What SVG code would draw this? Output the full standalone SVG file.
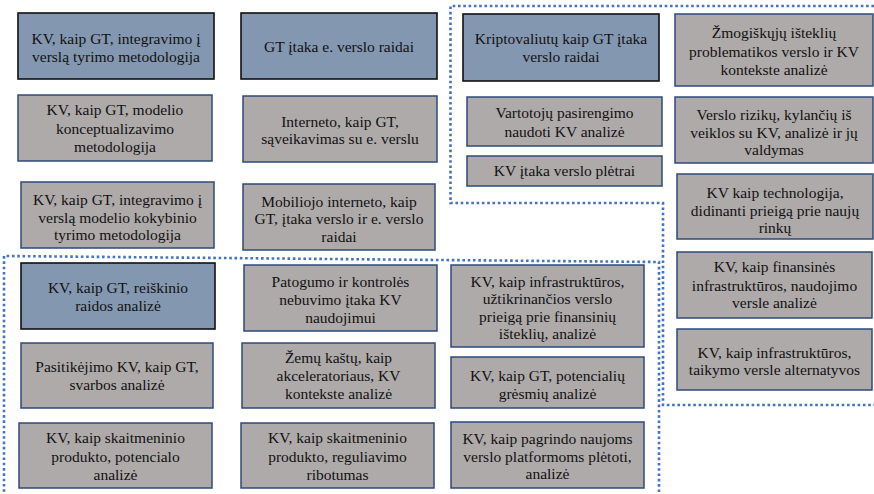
<svg xmlns="http://www.w3.org/2000/svg" width="874" height="494" viewBox="0 0 874 494" font-family="'Liberation Serif', 'DejaVu Serif', 'Times New Roman', serif">
  <style>
    .key rect { fill: #8497b0; stroke: #111111; stroke-width: 1.6; }
    .topic rect { fill: #aeaaaa; stroke: #2f4a78; stroke-width: 1.5; }
    text { font-family: 'Liberation Serif', 'DejaVu Serif', 'Times New Roman', serif; font-size: 15.5px; fill: #111111; text-anchor: middle; }
    .zone { fill: none; stroke: #4472c4; stroke-width: 2.6; stroke-dasharray: 2.6 2.7; }
  </style>
  <rect width="874" height="494" fill="#ffffff"/>

  <!-- zone outlines -->
  <g id="connectors">
    <polyline class="zone" points="874,6 450.5,6 450.5,203 663,203 663,405 874,405"/>
    <polyline class="zone" points="659,492 659,262 4,256 4,494"/>
  </g>

  <!-- column 1 -->
  <g id="n1" class="key">
    <rect x="18" y="13" width="196" height="66"/>
    <text x="116" y="44">KV, kaip GT, integravimo į</text>
    <text x="116" y="62">verslą tyrimo metodologija</text>
  </g>
  <g id="n2" class="topic">
    <rect x="18" y="95" width="194" height="66"/>
    <text x="115" y="115">KV, kaip GT, modelio</text>
    <text x="115" y="134">konceptualizavimo</text>
    <text x="115" y="152">metodologija</text>
  </g>
  <g id="n3" class="topic">
    <rect x="21" y="182" width="193" height="66"/>
    <text x="117.5" y="205">KV, kaip GT, integravimo į</text>
    <text x="117.5" y="223">verslą modelio kokybinio</text>
    <text x="117.5" y="240">tyrimo metodologija</text>
  </g>

  <!-- column 2 -->
  <g id="n4" class="key">
    <rect x="241" y="13" width="196" height="66"/>
    <text x="339" y="52">GT įtaka e. verslo raidai</text>
  </g>
  <g id="n5" class="topic">
    <rect x="243" y="96" width="194" height="66"/>
    <text x="340" y="127">Interneto, kaip GT,</text>
    <text x="340" y="144">sąveikavimas su e. verslu</text>
  </g>
  <g id="n6" class="topic">
    <rect x="243" y="184" width="192" height="66"/>
    <text x="339" y="207">Mobiliojo interneto, kaip</text>
    <text x="339" y="224">GT, įtaka verslo ir e. verslo</text>
    <text x="339" y="242">raidai</text>
  </g>

  <!-- upper zone -->
  <g id="n7" class="key">
    <rect x="463" y="14" width="196" height="67"/>
    <text x="561" y="44">Kriptovaliutų kaip GT įtaka</text>
    <text x="561" y="62">verslo raidai</text>
  </g>
  <g id="n8" class="topic">
    <rect x="467" y="97" width="195" height="49"/>
    <text x="564.5" y="118">Vartotojų pasirengimo</text>
    <text x="564.5" y="137">naudoti KV analizė</text>
  </g>
  <g id="n9" class="topic">
    <rect x="467" y="156" width="195" height="30"/>
    <text x="564.5" y="176">KV įtaka verslo plėtrai</text>
  </g>
  <g id="n10" class="topic">
    <rect x="675" y="14" width="198" height="72"/>
    <text x="774" y="38">Žmogiškųjų išteklių</text>
    <text x="774" y="57">problematikos verslo ir KV</text>
    <text x="774" y="75">kontekste analizė</text>
  </g>
  <g id="n11" class="topic">
    <rect x="675" y="97" width="198" height="66"/>
    <text x="774" y="120">Verslo rizikų, kylančių iš</text>
    <text x="774" y="138">veiklos su KV, analizė ir jų</text>
    <text x="774" y="155">valdymas</text>
  </g>
  <g id="n12" class="topic">
    <rect x="677" y="174" width="196" height="65"/>
    <text x="775" y="198">KV kaip technologija,</text>
    <text x="775" y="216">didinanti prieigą prie naujų</text>
    <text x="775" y="233">rinkų</text>
  </g>
  <g id="n13" class="topic">
    <rect x="677" y="252" width="195" height="66"/>
    <text x="774.5" y="272">KV, kaip finansinės</text>
    <text x="774.5" y="291">infrastruktūros, naudojimo</text>
    <text x="774.5" y="308">versle analizė</text>
  </g>
  <g id="n14" class="topic">
    <rect x="677" y="329" width="195" height="61"/>
    <text x="774.5" y="358">KV, kaip infrastruktūros,</text>
    <text x="774.5" y="375">taikymo versle alternatyvos</text>
  </g>

  <!-- lower zone -->
  <g id="n15" class="key">
    <rect x="21" y="263" width="194" height="66"/>
    <text x="118" y="293">KV, kaip GT, reiškinio</text>
    <text x="118" y="311">raidos analizė</text>
  </g>
  <g id="n16" class="topic">
    <rect x="21" y="343" width="192" height="65"/>
    <text x="117" y="372">Pasitikėjimo KV, kaip GT,</text>
    <text x="117" y="390">svarbos analizė</text>
  </g>
  <g id="n17" class="topic">
    <rect x="19" y="423" width="193" height="65"/>
    <text x="115.5" y="443">KV, kaip skaitmeninio</text>
    <text x="115.5" y="462">produkto, potencialo</text>
    <text x="115.5" y="480">analizė</text>
  </g>
  <g id="n18" class="topic">
    <rect x="244" y="265" width="193" height="66"/>
    <text x="340.5" y="287">Patogumo ir kontrolės</text>
    <text x="340.5" y="305">nebuvimo įtaka KV</text>
    <text x="340.5" y="323">naudojimui</text>
  </g>
  <g id="n19" class="topic">
    <rect x="242" y="343" width="193" height="65"/>
    <text x="338.5" y="363">Žemų kaštų, kaip</text>
    <text x="338.5" y="381">akceleratoriaus, KV</text>
    <text x="338.5" y="399">kontekste analizė</text>
  </g>
  <g id="n20" class="topic">
    <rect x="241" y="423" width="193" height="65"/>
    <text x="337.5" y="443">KV, kaip skaitmeninio</text>
    <text x="337.5" y="462">produkto, reguliavimo</text>
    <text x="337.5" y="480">ribotumas</text>
  </g>
  <g id="n21" class="topic">
    <rect x="451" y="265" width="193" height="82"/>
    <text x="547.5" y="287">KV, kaip infrastruktūros,</text>
    <text x="547.5" y="304">užtikrinančios verslo</text>
    <text x="547.5" y="322">prieigą prie finansinių</text>
    <text x="547.5" y="339">išteklių, analizė</text>
  </g>
  <g id="n22" class="topic">
    <rect x="451" y="357" width="193" height="51"/>
    <text x="547.5" y="381">KV, kaip GT, potencialių</text>
    <text x="547.5" y="399">grėsmių analizė</text>
  </g>
  <g id="n23" class="topic">
    <rect x="451" y="422" width="193" height="66"/>
    <text x="547.5" y="444">KV, kaip pagrindo naujoms</text>
    <text x="547.5" y="462">verslo platformoms plėtoti,</text>
    <text x="547.5" y="479">analizė</text>
  </g>
</svg>
